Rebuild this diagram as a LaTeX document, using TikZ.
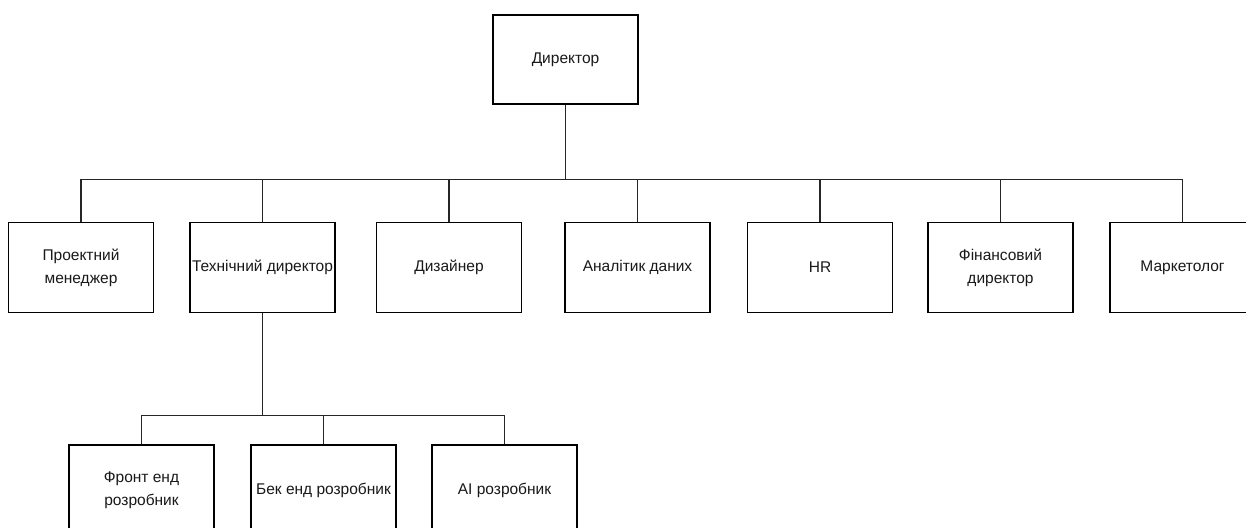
\documentclass[tikz,border=0pt]{standalone}
\usepackage{fontspec}
\setmainfont{Liberation Sans}
\begin{document}
\begin{tikzpicture}[x=1pt,y=-1pt,
  box/.style={draw=black, line width=1.2pt, minimum width=145pt, minimum height=90pt,
    inner sep=0pt, align=center, font=\fontsize{15.5}{23}\selectfont, text=black!90},
  link/.style={draw=black!85, line width=1.2pt}]
\clip (0,0) rectangle (1246,527);
\fill[white] (0,0) rectangle (1246,527);
% top
\node[box, minimum height=89pt] (dir) at (565.5,59.5) {Директор};
% middle row
\node[box] (pm)  at (81,267.5)    {Проектний\\менеджер};
\node[box] (cto) at (262.5,267.5) {Технічний директор};
\node[box] (des) at (449,267.5)   {Дизайнер};
\node[box] (ana) at (637.5,267.5) {Аналітик даних};
\node[box] (hr)  at (820,267.5)   {HR};
\node[box] (cfo) at (1000.5,267.5){Фінансовий\\директор};
\node[box] (mkt) at (1182.5,267.5){Маркетолог};
% bottom row
\node[box] (fe) at (141.5,490) {Фронт енд\\розробник};
\node[box] (be) at (323.5,490) {Бек енд розробник};
\node[box] (ai) at (504.5,490) {AI розробник};
% connectors top
\draw[link] (dir.south) -- ++(0,75) coordinate (bus);
\foreach \n in {pm,cto,des,ana,hr,cfo,mkt}
  \draw[link] (\n.north) |- (bus);
% connectors bottom
\draw[link] (cto.south) -- ++(0,102.5) coordinate (bus2);
\foreach \n in {fe,be,ai}
  \draw[link] (\n.north) |- (bus2);
\end{tikzpicture}
\end{document}
